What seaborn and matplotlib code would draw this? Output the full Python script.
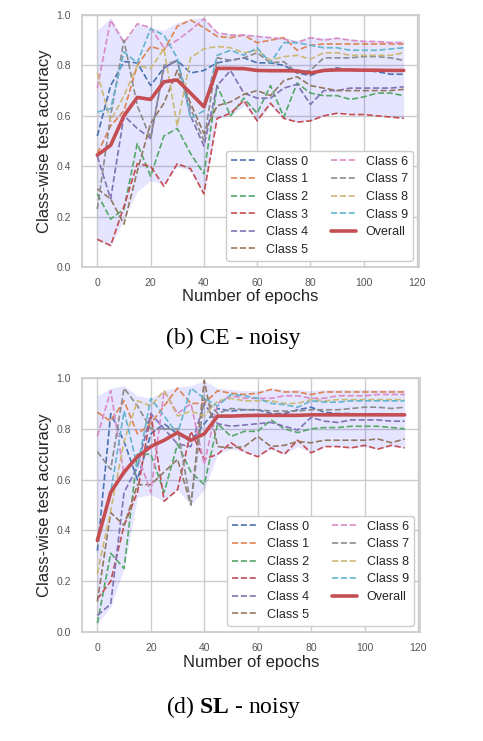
import matplotlib
matplotlib.use("Agg")
import matplotlib.pyplot as plt
import seaborn as sns

epochs = [0, 5, 10, 15, 20, 25, 30, 35, 40, 45, 50, 55, 60, 65, 70, 75,
          80, 85, 90, 95, 100, 105, 110, 115]
class_names = ["Class 0", "Class 1", "Class 2", "Class 3", "Class 4",
               "Class 5", "Class 6", "Class 7", "Class 8", "Class 9"]

# (b) CE - noisy
ce_c0 = [0.52, 0.72, 0.815, 0.81, 0.72, 0.79, 0.82, 0.77, 0.78, 0.81, 0.82, 0.83, 0.81, 0.81, 0.80, 0.77, 0.76, 0.78, 0.79, 0.78, 0.78, 0.775, 0.765, 0.765]
ce_c1 = [0.45, 0.56, 0.62, 0.80, 0.875, 0.86, 0.955, 0.98, 0.95, 0.915, 0.91, 0.92, 0.89, 0.90, 0.91, 0.86, 0.88, 0.885, 0.885, 0.885, 0.885, 0.885, 0.885, 0.885]
ce_c2 = [0.29, 0.19, 0.23, 0.49, 0.36, 0.52, 0.55, 0.45, 0.37, 0.72, 0.60, 0.67, 0.61, 0.72, 0.595, 0.73, 0.69, 0.68, 0.68, 0.665, 0.675, 0.69, 0.69, 0.68]
ce_c3 = [0.11, 0.085, 0.24, 0.41, 0.40, 0.32, 0.41, 0.39, 0.29, 0.59, 0.61, 0.66, 0.58, 0.65, 0.59, 0.575, 0.58, 0.60, 0.61, 0.605, 0.605, 0.60, 0.595, 0.59]
ce_c4 = [0.44, 0.27, 0.60, 0.55, 0.51, 0.79, 0.82, 0.60, 0.48, 0.72, 0.78, 0.69, 0.67, 0.67, 0.71, 0.725, 0.645, 0.70, 0.70, 0.71, 0.71, 0.71, 0.71, 0.715]
ce_c5 = [0.31, 0.27, 0.17, 0.38, 0.57, 0.65, 0.78, 0.65, 0.53, 0.64, 0.655, 0.685, 0.70, 0.68, 0.74, 0.755, 0.72, 0.71, 0.70, 0.70, 0.70, 0.70, 0.70, 0.705]
ce_c6 = [0.71, 0.98, 0.89, 0.965, 0.95, 0.87, 0.90, 0.94, 0.985, 0.93, 0.92, 0.92, 0.915, 0.91, 0.905, 0.89, 0.91, 0.90, 0.908, 0.90, 0.895, 0.895, 0.89, 0.89]
ce_c7 = [0.23, 0.60, 0.90, 0.64, 0.51, 0.80, 0.82, 0.63, 0.50, 0.83, 0.82, 0.83, 0.85, 0.81, 0.815, 0.77, 0.78, 0.83, 0.83, 0.83, 0.835, 0.835, 0.83, 0.82]
ce_c8 = [0.77, 0.58, 0.68, 0.80, 0.787, 0.866, 0.56, 0.83, 0.866, 0.875, 0.87, 0.85, 0.86, 0.82, 0.835, 0.84, 0.825, 0.85, 0.85, 0.84, 0.84, 0.84, 0.84, 0.85]
ce_c9 = [0.615, 0.628, 0.853, 0.81, 0.946, 0.92, 0.83, 0.59, 0.62, 0.84, 0.86, 0.84, 0.87, 0.81, 0.89, 0.89, 0.88, 0.87, 0.87, 0.86, 0.86, 0.86, 0.865, 0.87]
ce_overall = [0.444, 0.483, 0.60, 0.673, 0.665, 0.735, 0.742, 0.69, 0.636, 0.788, 0.788, 0.787, 0.78, 0.779, 0.779, 0.778, 0.77, 0.78, 0.782, 0.782, 0.781, 0.781, 0.78, 0.78]
ce_band_lo = [0.105, 0.085, 0.19, 0.30, 0.343, 0.33, 0.40, 0.38, 0.29, 0.59, 0.60, 0.64, 0.58, 0.64, 0.59, 0.575, 0.58, 0.60, 0.61, 0.605, 0.605, 0.60, 0.595, 0.59]
ce_band_hi = [0.94, 0.99, 0.90, 0.965, 0.95, 0.94, 0.97, 0.985, 0.99, 0.93, 0.925, 0.925, 0.92, 0.915, 0.91, 0.90, 0.915, 0.91, 0.91, 0.905, 0.90, 0.90, 0.90, 0.90]

# (d) SL - noisy
sl_c0 = [0.32, 0.86, 0.75, 0.60, 0.78, 0.82, 0.78, 0.75, 0.82, 0.88, 0.87, 0.875, 0.875, 0.86, 0.86, 0.875, 0.885, 0.865, 0.86, 0.86, 0.855, 0.86, 0.855, 0.855]
sl_c1 = [0.865, 0.83, 0.91, 0.78, 0.82, 0.89, 0.96, 0.90, 0.90, 0.95, 0.94, 0.935, 0.94, 0.955, 0.945, 0.945, 0.935, 0.945, 0.945, 0.945, 0.945, 0.945, 0.945, 0.945]
sl_c2 = [0.035, 0.31, 0.25, 0.70, 0.70, 0.55, 0.74, 0.63, 0.58, 0.82, 0.77, 0.79, 0.79, 0.835, 0.80, 0.785, 0.80, 0.805, 0.805, 0.81, 0.81, 0.81, 0.805, 0.80]
sl_c3 = [0.13, 0.20, 0.42, 0.55, 0.86, 0.515, 0.56, 0.79, 0.68, 0.70, 0.745, 0.71, 0.69, 0.725, 0.70, 0.755, 0.705, 0.73, 0.73, 0.725, 0.735, 0.72, 0.735, 0.725]
sl_c4 = [0.065, 0.11, 0.55, 0.65, 0.86, 0.80, 0.74, 0.73, 0.90, 0.82, 0.81, 0.815, 0.82, 0.825, 0.81, 0.795, 0.845, 0.83, 0.825, 0.835, 0.835, 0.835, 0.83, 0.83]
sl_c5 = [0.12, 0.47, 0.42, 0.58, 0.58, 0.63, 0.68, 0.50, 0.99, 0.73, 0.725, 0.73, 0.77, 0.73, 0.735, 0.75, 0.745, 0.755, 0.755, 0.755, 0.755, 0.76, 0.745, 0.76]
sl_c6 = [0.77, 0.95, 0.62, 0.70, 0.55, 0.95, 0.86, 0.90, 0.66, 0.90, 0.93, 0.92, 0.92, 0.92, 0.93, 0.93, 0.92, 0.92, 0.93, 0.93, 0.93, 0.935, 0.935, 0.935]
sl_c7 = [0.71, 0.64, 0.96, 0.89, 0.80, 0.80, 0.80, 0.50, 0.92, 0.86, 0.88, 0.875, 0.875, 0.87, 0.87, 0.87, 0.875, 0.875, 0.875, 0.88, 0.885, 0.885, 0.88, 0.885]
sl_c8 = [0.23, 0.48, 0.75, 0.91, 0.89, 0.95, 0.85, 0.87, 0.85, 0.91, 0.92, 0.91, 0.91, 0.91, 0.90, 0.90, 0.915, 0.91, 0.915, 0.915, 0.915, 0.915, 0.915, 0.915]
sl_c9 = [0.36, 0.55, 0.87, 0.65, 0.92, 0.85, 0.78, 0.96, 0.92, 0.89, 0.935, 0.93, 0.92, 0.90, 0.895, 0.885, 0.91, 0.905, 0.905, 0.91, 0.91, 0.91, 0.91, 0.91]
sl_overall = [0.36, 0.55, 0.63, 0.69, 0.73, 0.755, 0.785, 0.755, 0.78, 0.85, 0.85, 0.852, 0.853, 0.853, 0.853, 0.853, 0.855, 0.855, 0.855, 0.855, 0.855, 0.855, 0.855, 0.855]
sl_band_lo = [0.03, 0.10, 0.25, 0.53, 0.54, 0.515, 0.56, 0.50, 0.56, 0.70, 0.72, 0.71, 0.69, 0.72, 0.70, 0.73, 0.705, 0.73, 0.73, 0.725, 0.73, 0.72, 0.73, 0.725]
sl_band_hi = [0.93, 0.96, 0.97, 0.93, 0.92, 0.95, 0.965, 0.97, 0.99, 0.96, 0.955, 0.95, 0.95, 0.96, 0.955, 0.955, 0.95, 0.955, 0.955, 0.955, 0.955, 0.955, 0.955, 0.955]

sns.set_theme(style="whitegrid")
plt.rcParams["font.family"] = ["Liberation Sans", "DejaVu Sans"]
plt.rcParams["mathtext.fontset"] = "custom"
plt.rcParams["mathtext.rm"] = "Liberation Serif"
plt.rcParams["mathtext.bf"] = "Liberation Serif:bold"
colors = sns.color_palette("deep", 10)


def draw(ax, classes, overall, lo, hi):
    ax.fill_between(epochs, lo, hi, color="blue", alpha=0.1, lw=0)
    for name, vals, c in zip(class_names, classes, colors):
        sns.lineplot(x=epochs, y=vals, ax=ax, color=c, linestyle="--", lw=1.2, label=name)
    sns.lineplot(x=epochs, y=overall, ax=ax, color=colors[3], lw=2.6, label="Overall")
    ax.set_ylim(0, 1.0)
    ax.set_xticks([0, 20, 40, 60, 80, 100, 120])
    ax.tick_params(labelsize=7.5, pad=2, colors="#555555")
    ax.set_xlabel("Number of epochs", fontsize=12, labelpad=1)
    ax.set_ylabel("Class-wise test accuracy", fontsize=12, labelpad=3)
    ax.legend(loc="lower right", ncol=2, fontsize=9, labelspacing=0.45,
              columnspacing=1.8, handlelength=2.0, framealpha=1)


fig = plt.figure(figsize=(4.83, 7.41), dpi=100)
ax1 = fig.add_axes([82 / 483, 1 - 267 / 741, 337 / 483, 252 / 741])
ax2 = fig.add_axes([82 / 483, 1 - 632 / 741, 338 / 483, 254 / 741])

draw(ax1, [ce_c0, ce_c1, ce_c2, ce_c3, ce_c4, ce_c5, ce_c6, ce_c7, ce_c8, ce_c9],
     ce_overall, ce_band_lo, ce_band_hi)
draw(ax2, [sl_c0, sl_c1, sl_c2, sl_c3, sl_c4, sl_c5, sl_c6, sl_c7, sl_c8, sl_c9],
     sl_overall, sl_band_lo, sl_band_hi)

fig.text(0.483, 1 - 338 / 741, "(b) CE - noisy", ha="center", va="center",
         fontsize=17, family="Liberation Serif", color="black")
fig.text(0.483, 1 - 707 / 741, r"(d) $\mathbf{SL}$ - noisy", ha="center", va="center",
         fontsize=17, family="Liberation Serif", color="black")

fig.savefig("out.png", dpi=100)
